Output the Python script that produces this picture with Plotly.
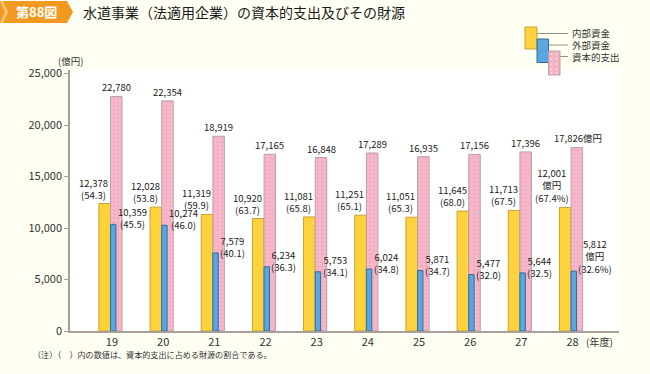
import plotly.graph_objects as go

years = [19, 20, 21, 22, 23, 24, 25, 26, 27, 28]
year_labels = ["19", "20", "21", "22", "23", "24", "25", "26", "27", "28"]
internal = [12378, 12028, 11319, 10920, 11081, 11251, 11051, 11645, 11713, 12001]
external = [10359, 10274, 7579, 6234, 5753, 6024, 5871, 5477, 5644, 5812]
capital = [22780, 22354, 18919, 17165, 16848, 17289, 16935, 17156, 17396, 17826]
internal_pct = [54.3, 53.8, 59.9, 63.7, 65.8, 65.1, 65.3, 68.0, 67.5, 67.4]
external_pct = [45.5, 46.0, 40.1, 36.3, 34.1, 34.8, 34.7, 32.0, 32.5, 32.6]

W, H = 650, 374
ML, MR, MT, MB = 70, 31, 70, 43
PW, PH = W - ML - MR, H - MT - MB

def px(x):
    return (x - ML) / PW

def py(y):
    return (H - MB - y) / PH

YEL, YEL_L = "#FDD23C", "#C9A22E"
BLU, BLU_L = "#5AA6DE", "#2F6EA3"
PNK, PNK_L = "#F5B0C4", "#B7A2A8"
BG = "#FFFEF2"
FONT = "Noto Sans CJK JP"
TXT = "#333333"

fig = go.Figure()
fig.add_trace(go.Bar(x=years, y=internal, offset=-0.256, width=0.228,
                     marker=dict(color=YEL, line=dict(color=YEL_L, width=1)),
                     name="内部資金", hoverinfo="y"))
fig.add_trace(go.Bar(x=years, y=capital, offset=-0.028, width=0.225,
                     marker=dict(color=PNK, line=dict(color=PNK_L, width=1),
                                 pattern=dict(shape=".", fgcolor="white", bgcolor=PNK,
                                              size=4, solidity=0.1)),
                     name="資本的支出", hoverinfo="y"))
fig.add_trace(go.Bar(x=years, y=external, offset=-0.028, width=0.105,
                     marker=dict(color=BLU, line=dict(color=BLU_L, width=1)),
                     name="外部資金", hoverinfo="y"))

ann = []
fs = 9.5
n = len(years)
for i, yr in enumerate(years):
    last = i == n - 1
    # internal
    t = f"{internal[i]:,}<br>億円<br>({internal_pct[i]:.1f}%)" if last else f"{internal[i]:,}<br>({internal_pct[i]:.1f})"
    ann.append(dict(x=yr - 0.03, y=internal[i], xref="x", yref="y", text=t,
                    xanchor="right", yanchor="bottom", yshift=0, showarrow=False,
                    align="center", font=dict(size=fs, color="#222")))
    # external
    t = f"{external[i]:,}<br>億円<br>({external_pct[i]:.1f}%)" if last else f"{external[i]:,}<br>({external_pct[i]:.1f})"
    ann.append(dict(x=yr + 0.077, y=external[i], xref="x", yref="y", text=t,
                    xanchor="left", yanchor="middle", yshift=15 if last else 6, showarrow=False,
                    align="center", font=dict(size=fs, color="#222")))
    # capital
    t = f"{capital[i]:,}億円" if last else f"{capital[i]:,}"
    a = dict(x=yr + 0.085, y=capital[i], xref="x", yref="y", text=t,
             xanchor="center", yanchor="bottom", yshift=0, showarrow=False,
             font=dict(size=fs, color="#222"))
    if last:
        a["xshift"] = 1
    ann.append(a)

# axis unit labels
ann.append(dict(x=px(70), y=py(61), xref="paper", yref="paper", text="(億円)", showarrow=False,
                xanchor="center", yanchor="middle", font=dict(size=9.5, color=TXT)))
ann.append(dict(x=px(584), y=py(341), xref="paper", yref="paper", text="(年度)", showarrow=False,
                xanchor="left", yanchor="middle", font=dict(size=10, color=TXT)))
# title
ann.append(dict(x=px(36), y=py(12), xref="paper", yref="paper", text="<b>第88図</b>", showarrow=False,
                xanchor="center", yanchor="middle", font=dict(size=13, color="white")))
ann.append(dict(x=px(81), y=py(12), xref="paper", yref="paper", text="水道事業（法適用企業）の資本的支出及びその財源",
                showarrow=False, xanchor="left", yanchor="middle", font=dict(size=14, color="#1a1a1a")))
# footnote
ann.append(dict(x=px(31), y=py(355), xref="paper", yref="paper",
                text="（注）（　）内の数値は、資本的支出に占める財源の割合である。",
                showarrow=False, xanchor="left", yanchor="middle", font=dict(size=8.1, color=TXT)))
# legend labels
for lab, yy in [("内部資金", 33.5), ("外部資金", 45), ("資本的支出", 56.5)]:
    ann.append(dict(x=px(570), y=py(yy), xref="paper", yref="paper", text=lab, showarrow=False,
                    xanchor="left", yanchor="middle", font=dict(size=9.5, color=TXT)))

shapes = []
# title tag
shapes.append(dict(type="path", xref="paper", yref="paper",
                   path=f"M {px(0)},{py(1)} L {px(67)},{py(1)} L {px(73)},{py(12)} L {px(67)},{py(23)} L {px(0)},{py(23)} Z",
                   fillcolor="#F29A1F", line=dict(width=0)))
shapes.append(dict(type="path", xref="paper", yref="paper",
                   path=f"M {px(0)},{py(1)} L {px(3)},{py(1)} L {px(8)},{py(12)} L {px(3)},{py(23)} L {px(0)},{py(23)} L {px(5)},{py(12)} Z",
                   fillcolor="#F8C27A", line=dict(width=0)))

def rect(x0, y0, x1, y1, fill, lc):
    shapes.append(dict(type="rect", xref="paper", yref="paper", x0=px(x0), x1=px(x1),
                       y0=py(y1), y1=py(y0), fillcolor=fill, line=dict(color=lc, width=1)))

def line(x0, y0, x1, y1):
    shapes.append(dict(type="line", xref="paper", yref="paper", x0=px(x0), x1=px(x1),
                       y0=py(y0), y1=py(y1), line=dict(color="#999080", width=1)))

line(537, 33.5, 568, 33.5)
line(548, 45, 568, 45)
line(560, 56.5, 568, 56.5)
rect(525, 27, 537, 49, YEL, YEL_L)
rect(537, 39, 548.5, 62.5, BLU, BLU_L)
rect(548.5, 51, 560, 75, PNK, PNK_L)
for dx in (551.5, 556.5):
    for dy in (54, 59, 64, 69, 73):
        shapes.append(dict(type="circle", xref="paper", yref="paper",
                           x0=px(dx - 0.8), x1=px(dx + 0.8), y0=py(dy + 0.8), y1=py(dy - 0.8),
                           fillcolor="white", line=dict(width=0)))

fig.update_layout(
    width=W, height=H, margin=dict(l=ML, r=MR, t=MT, b=MB),
    paper_bgcolor=BG, plot_bgcolor="white",
    barmode="overlay", showlegend=False,
    font=dict(family=FONT, color=TXT, size=11),
    annotations=ann, shapes=shapes,
    xaxis=dict(range=[18.18, 28.908], tickvals=years, ticktext=year_labels,
               showline=True, linecolor="#A8A098", linewidth=1.5, ticks="",
               showgrid=False, zeroline=False, tickfont=dict(size=11, color=TXT)),
    yaxis=dict(range=[0, 25350], tickvals=[0, 5000, 10000, 15000, 20000, 25000],
               tickformat=",", showline=True, linecolor="#A8A098", linewidth=1.5,
               ticks="outside", ticklen=4, tickcolor="#A8A098", showgrid=False,
               zeroline=False, tickfont=dict(size=11, color=TXT)),
)

fig.write_html("out.html", config={"displayModeBar": False},
               post_script="document.body.style.margin='0';document.body.style.background='" + BG + "';")
